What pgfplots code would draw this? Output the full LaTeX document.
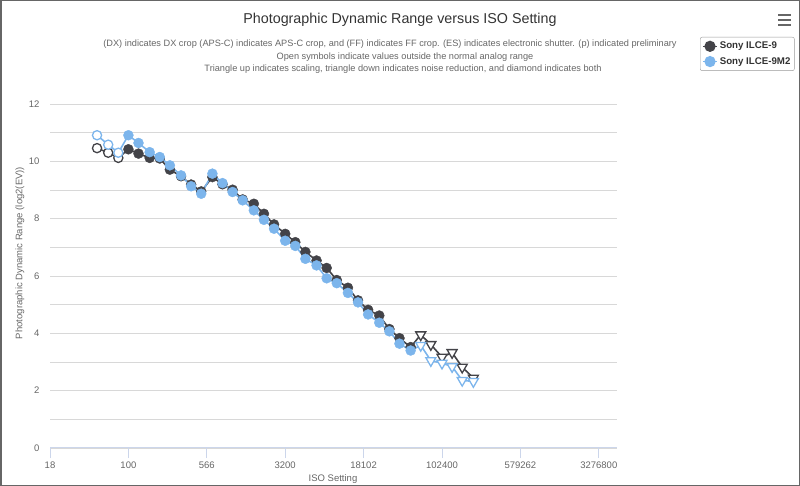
\documentclass[border=0pt]{standalone}
\usepackage{fontspec}
\setmainfont{Liberation Sans}
\usepackage{pgfplots}
\usepackage{pgfplotstable}
\pgfplotsset{compat=1.18}

\definecolor{cA}{HTML}{434348}
\definecolor{cB}{HTML}{7CB5EC}
\definecolor{txt}{HTML}{333333}
\definecolor{sub}{HTML}{666666}
\definecolor{gridc}{HTML}{D8D8D8}
\definecolor{axc}{HTML}{CCD6EB}

% marker kinds, by column t: 0 = filled circle, 1 = open circle, 2 = open triangle down
\pgfplotsset{
  filled/.style={only marks, mark=*, mark size=5bp,
    restrict expr to domain={\thisrow{t}}{-0.5:0.5}, forget plot},
  opencirc/.style={only marks, mark=*, mark size=4.6bp,
    mark options={fill=white, draw=#1, line width=1.3bp},
    restrict expr to domain={\thisrow{t}}{0.5:1.5}, forget plot},
  opentri/.style={only marks, mark=triangle*, mark size=5.8bp,
    mark options={rotate=180, fill=white, draw=#1, line width=1.3bp},
    restrict expr to domain={\thisrow{t}}{1.5:2.5}, forget plot},
}

\pgfplotstableread{
iso dr t
50 10.46 1
64 10.30 1
80 10.12 1
100 10.42 0
125 10.27 0
160 10.12 0
200 10.10 0
250 9.71 0
320 9.48 0
400 9.19 0
500 8.95 0
640 9.45 0
800 9.20 0
1000 9.01 0
1250 8.67 0
1600 8.52 0
2000 8.17 0
2500 7.80 0
3200 7.47 0
4000 7.18 0
5000 6.84 0
6400 6.54 0
8000 6.28 0
10000 5.86 0
12800 5.59 0
16000 5.15 0
20000 4.82 0
25600 4.62 0
32000 4.15 0
40000 3.83 0
51200 3.52 0
64000 3.95 2
80000 3.61 2
102400 3.17 2
128000 3.33 2
160000 2.82 2
204800 2.44 2
}\ilcenine

\pgfplotstableread{
iso dr t
50 10.91 1
64 10.58 1
80 10.30 1
100 10.91 0
125 10.64 0
160 10.32 0
200 10.15 0
250 9.86 0
320 9.51 0
400 9.13 0
500 8.87 0
640 9.57 0
800 9.24 0
1000 8.93 0
1250 8.64 0
1600 8.29 0
2000 7.96 0
2500 7.65 0
3200 7.23 0
4000 7.05 0
5000 6.60 0
6400 6.37 0
8000 5.92 0
10000 5.75 0
12800 5.41 0
16000 5.08 0
20000 4.66 0
25600 4.37 0
32000 4.07 0
40000 3.64 0
51200 3.40 0
64000 3.58 2
80000 3.05 2
102400 2.96 2
128000 2.84 2
160000 2.36 2
204800 2.32 2
}\ilcenineII

\begin{document}
\begin{tikzpicture}
\useasboundingbox (0,0) rectangle (800bp,486bp);
\begin{axis}[
  at={(50bp,38bp)}, anchor=south west,
  scale only axis, width=567bp, height=344bp,
  xmode=log, log basis x=2,
  xmin=17.678, xmax=4.9e6,
  ymin=0, ymax=12,
  axis x line*=bottom, axis y line*=left,
  x axis line style={draw=axc, line width=1bp, -},
  y axis line style={draw=none},
  xtick={17.678,100,565.685,3200,18101.93,102400,579262.4,3276800},
  xticklabels={18,100,566,3200,18102,102400,579262,3276800},
  xtick style={draw=axc, line width=1bp},
  tick align=outside, major tick length=10bp, minor tick length=0pt,
  ytick={0,2,...,12}, minor ytick={1,3,...,11},
  ytick style={draw=none},
  yticklabel style={xshift=3bp},
  ymajorgrids, yminorgrids,
  major grid style={draw=gridc, line width=0.8bp},
  minor grid style={draw=gridc, line width=0.8bp},
  tick label style={font=\fontsize{9.5bp}{11bp}\selectfont, text=sub},
  /pgf/number format/assume math mode=true,
  legend style={at={(1.1464,1.1948)}, anchor=north west, draw=gray!80,
    rounded corners=2bp, font=\bfseries\fontsize{9.7bp}{11bp}\selectfont,
    text=txt, inner xsep=2bp, inner ysep=3bp, row sep=3bp,
    cells={anchor=west}},
  legend image code/.code={
    \draw[mark repeat=2, mark phase=2, #1]
      plot coordinates {(0bp,0bp) (7bp,0bp) (14bp,0bp)};},
]
\addlegendimage{cA, line width=1.6bp, mark=*, mark size=4.8bp}
\addlegendentry{Sony ILCE-9}
\addlegendimage{cB, line width=1.6bp, mark=*, mark size=4.8bp}
\addlegendentry{Sony ILCE-9M2}

% Sony ILCE-9
\addplot[cA, line width=1.6bp, no markers, forget plot] table[x=iso, y=dr] {\ilcenine};
\addplot[cA, filled] table[x=iso, y=dr] {\ilcenine};
\addplot[cA, opencirc=cA] table[x=iso, y=dr] {\ilcenine};
\addplot[cA, opentri=cA] table[x=iso, y=dr] {\ilcenine};

% Sony ILCE-9M2
\addplot[cB, line width=1.6bp, no markers, forget plot] table[x=iso, y=dr] {\ilcenineII};
\addplot[cB, filled] table[x=iso, y=dr] {\ilcenineII};
\addplot[cB, opencirc=cB] table[x=iso, y=dr] {\ilcenineII};
\addplot[cB, opentri=cB] table[x=iso, y=dr] {\ilcenineII};
\end{axis}

% titles and axis labels
\node[font=\fontsize{14.3bp}{16bp}\selectfont, text=txt] at (400bp,466bp)
  {Photographic Dynamic Range versus ISO Setting};
\begin{scope}[every node/.style={font=\fontsize{9.2bp}{11bp}\selectfont, text=sub}]
\node at (390bp,442bp) {(DX) indicates DX crop (APS-C) indicates APS-C crop, and (FF) indicates FF crop. (ES) indicates electronic shutter. (p) indicated preliminary};
\node at (405bp,429bp) {Open symbols indicate values outside the normal analog range};
\node at (403bp,417bp) {Triangle up indicates scaling, triangle down indicates noise reduction, and diamond indicates both};
\end{scope}
\node[font=\fontsize{9.5bp}{11bp}\selectfont, text=sub] at (333bp,7bp) {ISO Setting};
\node[font=\fontsize{9.5bp}{11bp}\selectfont, text=sub, rotate=90] at (20bp,233bp)
  {Photographic Dynamic Range (log2(EV))};

% menu icon
\foreach \yy in {461,466,471}
  \draw[sub, line width=1.8bp] (778bp,\yy bp) -- (791bp,\yy bp);

% frame
\draw[sub, line width=1.5bp] (0.75bp,0.75bp) rectangle (799.25bp,485.25bp);
\end{tikzpicture}
\end{document}
